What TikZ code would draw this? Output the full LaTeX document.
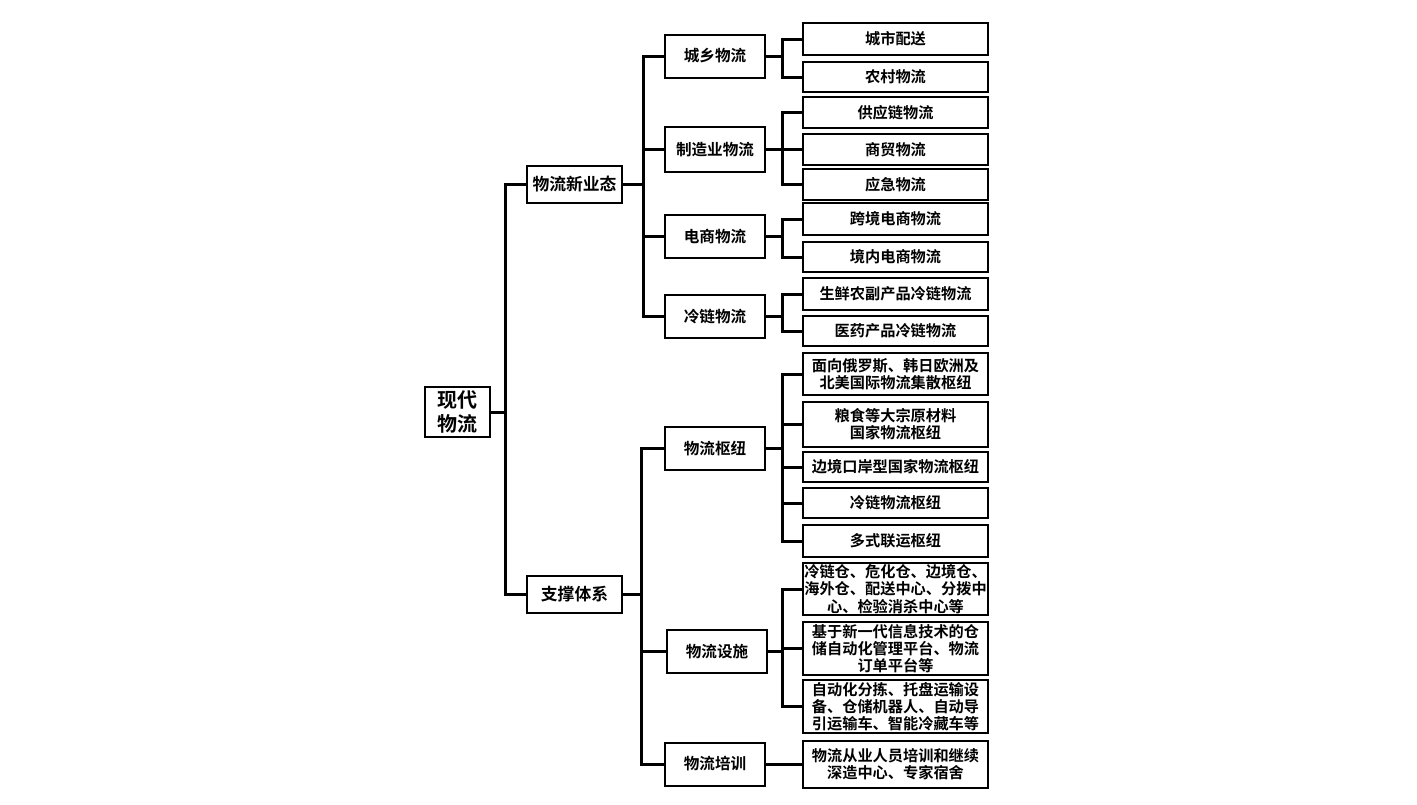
\documentclass[tikz,border=0pt]{standalone}
\usepackage{fontspec}
\setmainfont{Noto Sans CJK SC}[BoldFont={Noto Sans CJK SC Bold}]
\usepackage{tikz}
\usetikzlibrary{positioning}

\begin{document}
\begin{tikzpicture}[x=0.5pt,y=-0.5pt,
    box/.style={draw, line width=1pt, fill=white, align=center, inner sep=1pt, font=\bfseries},
    rootbox/.style={box, minimum width=32.5pt, minimum height=25pt, font=\bfseries\fontsize{10}{12}\selectfont},
    topbox/.style={box, minimum width=47.5pt, minimum height=18.5pt, font=\bfseries\fontsize{8.4}{10}\selectfont},
    midbox/.style={box, minimum width=50pt, minimum height=21.5pt, font=\bfseries\fontsize{7.8}{9.5}\selectfont},
    leafbox/.style={box, inner xsep=0pt, minimum width=92.5pt, font=\bfseries\fontsize{7.6}{8.6}\selectfont},
    link/.style={line width=1.5pt, line join=miter}]
    \useasboundingbox (0,0) rectangle (1417,804);

    % root and first level
    \node[rootbox] (root) at (457.5,412) {现代\\物流};
    \node[topbox] (xyt) at (574.5,184.5) {物流新业态};
    \node[topbox] (zctx) at (574.5,594.5) {支撑体系};

    % second level
    \node[midbox] (cx) at (715,56) {城乡物流};
    \node[midbox, minimum height=22.5pt] (zz) at (715,149.5) {制造业物流};
    \node[midbox] (ds) at (715,236.5) {电商物流};
    \node[midbox] (ll) at (715,316.5) {冷链物流};
    \node[midbox] (sn) at (715,448.5) {物流枢纽};
    \node[midbox] (ss) at (717,651.5) {物流设施};
    \node[midbox] (px) at (715,764) {物流培训};

    % leaves
    \node[leafbox, minimum height=16pt] (a1) at (895.5,39) {城市配送};
    \node[leafbox, minimum height=15pt] (a2) at (895.5,77) {农村物流};
    \node[leafbox, minimum height=15.5pt] (b1) at (895.5,112.5) {供应链物流};
    \node[leafbox, minimum height=15.5pt] (b2) at (895.5,149.5) {商贸物流};
    \node[leafbox, minimum height=15.5pt] (b3) at (895.5,184.5) {应急物流};
    \node[leafbox, minimum height=16pt] (c1) at (895.5,219) {跨境电商物流};
    \node[leafbox, minimum height=15pt] (c2) at (895.5,257) {境内电商物流};
    \node[leafbox, minimum height=16pt] (d1) at (895.5,294) {生鲜农副产品冷链物流};
    \node[leafbox, minimum height=15pt] (d2) at (895.5,331) {医药产品冷链物流};
    \node[leafbox, minimum height=21pt] (e1) at (895.5,374) {面向俄罗斯、韩日欧洲及\\北美国际物流集散枢纽};
    \node[leafbox, minimum height=22.5pt] (e2) at (895.5,424.5) {粮食等大宗原材料\\国家物流枢纽};
    \node[leafbox, minimum height=15pt] (e3) at (895.5,467) {边境口岸型国家物流枢纽};
    \node[leafbox, minimum height=15pt] (e4) at (895.5,503) {冷链物流枢纽};
    \node[leafbox, minimum height=16pt] (e5) at (895.5,541) {多式联运枢纽};
    \node[leafbox, minimum height=26pt] (f1) at (895.5,589) {冷链仓、危化仓、边境仓、\\海外仓、配送中心、分拨中\\心、检验消杀中心等};
    \node[leafbox, minimum height=26.5pt] (f2) at (895.5,648.5) {基于新一代信息技术的仓\\储自动化管理平台、物流\\订单平台等};
    \node[leafbox, minimum height=26.5pt] (f3) at (895.5,706.5) {自动化分拣、托盘运输设\\备、仓储机器人、自动导\\引运输车、智能冷藏车等};
    \node[leafbox, minimum height=23.5pt] (g1) at (895.5,764) {物流从业人员培训和继续\\深造中心、专家宿舍};

    % connectors
    \draw[link] (root.east) -- ++(14,0) coordinate (j0);
    \foreach \t in {xyt,zctx} \draw[link] (j0) |- (\t.west);
    \draw[link] (xyt.east) -- ++(20,0) coordinate (j1);
    \foreach \t in {cx,zz,ds,ll} \draw[link] (j1) |- (\t.west);
    \draw[link] (zctx.east) -- ++(18,0) coordinate (j2);
    \foreach \t in {sn,ss,px} \draw[link] (j2) |- (\t.west);
    \draw[link] (cx.east) -- (782,56) coordinate (k1);
    \foreach \t in {a1,a2} \draw[link] (k1) |- (\t.west);
    \draw[link] (zz.east) -- (782,149.5) coordinate (k2);
    \foreach \t in {b1,b2,b3} \draw[link] (k2) |- (\t.west);
    \draw[link] (ds.east) -- (782,236.5) coordinate (k3);
    \foreach \t in {c1,c2} \draw[link] (k3) |- (\t.west);
    \draw[link] (ll.east) -- (782,316.5) coordinate (k4);
    \foreach \t in {d1,d2} \draw[link] (k4) |- (\t.west);
    \draw[link] (sn.east) -- (782,448.5) coordinate (k5);
    \foreach \t in {e1,e2,e3,e4,e5} \draw[link] (k5) |- (\t.west);
    \draw[link] (ss.east) -- (782,651.5) coordinate (k6);
    \foreach \t in {f1,f2,f3} \draw[link] (k6) |- (\t.west);
    \draw[link] (px.east) -- (g1.west);
\end{tikzpicture}
\end{document}
